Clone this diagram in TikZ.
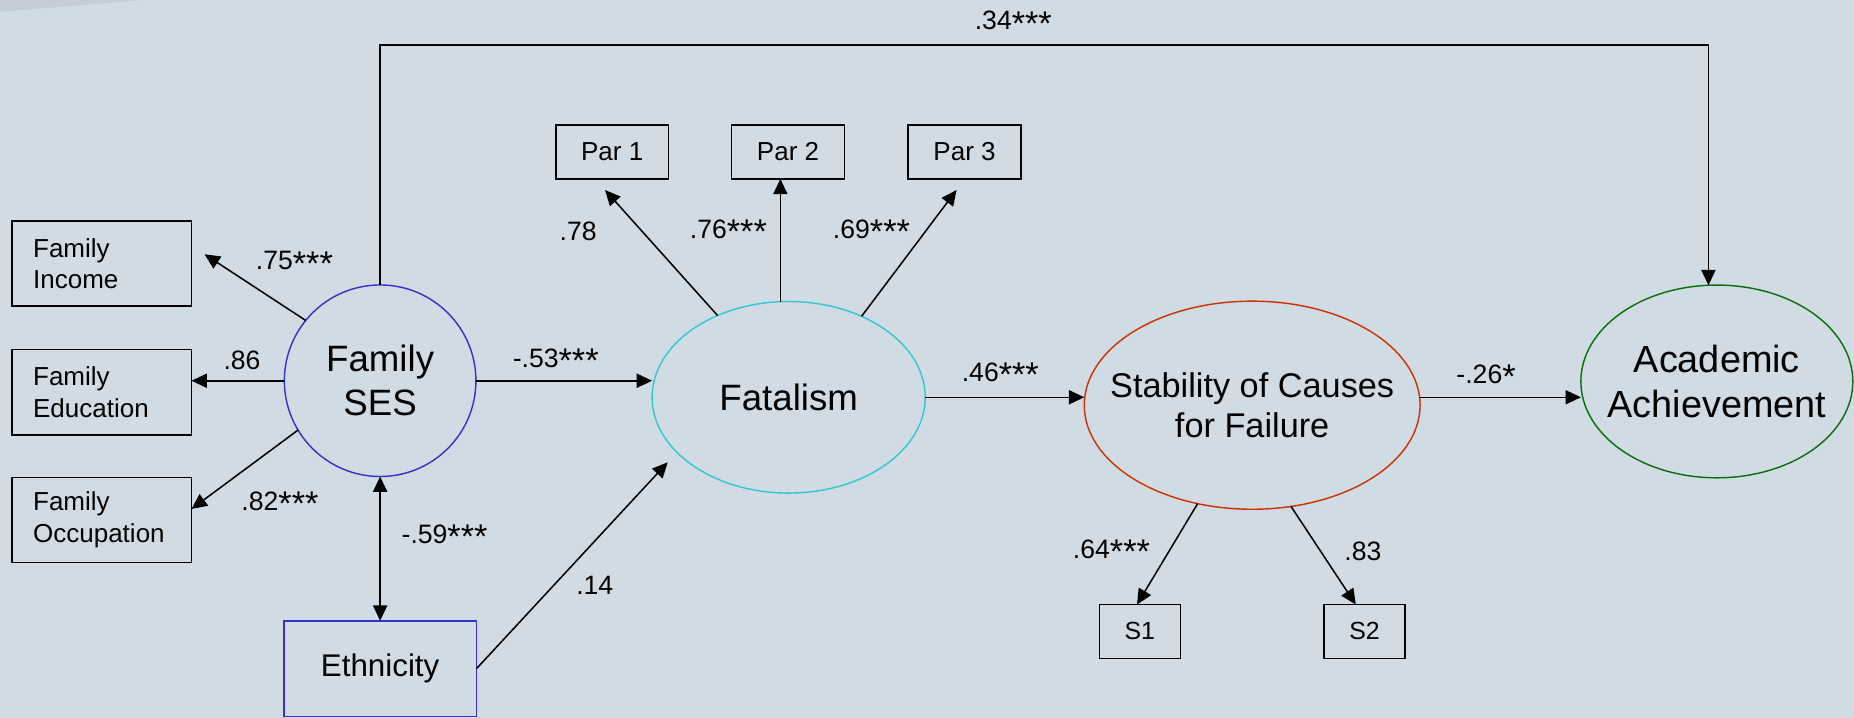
\documentclass[tikz,border=0pt]{standalone}
\usepackage{fontspec}
\usepackage{graphicx}
\setmainfont{Liberation Sans}
\usetikzlibrary{arrows.meta,shapes.geometric}
\definecolor{bg}{RGB}{208,219,227}
\definecolor{bgd}{RGB}{197,205,214}
\definecolor{sesblue}{RGB}{51,51,204}
\definecolor{fatcyan}{RGB}{51,200,204}
\definecolor{stabred}{RGB}{204,51,0}
\definecolor{acadgreen}{RGB}{10,110,10}
\newcommand\sigstars[1]{\raisebox{-4.5pt}{\fontsize{29}{27}\selectfont #1}}
\begin{document}
\begin{tikzpicture}[x=1pt,y=-1pt,
  every node/.style={inner sep=0pt,outer sep=0pt},
  arr/.style={line width=1.3pt,-{Triangle[length=13pt,width=12pt]}},
  darr/.style={line width=1.3pt,{Triangle[length=13pt,width=12pt]}-{Triangle[length=13pt,width=12pt]}},
  obsbox/.style={draw,line width=1.3pt,rectangle,font=\fontsize{22}{27}\selectfont},
  indbox/.style={obsbox,minimum width=152pt,minimum height=72pt,text width=116pt,inner xsep=18pt,align=left},
  smallbox/.style={obsbox,minimum height=45.5pt},
  latent/.style={draw,line width=1.2pt,ellipse},
  coef/.style={font=\fontsize{22.5}{27}\selectfont}
]
\useasboundingbox (0,0) rectangle (1568,607);
\fill[bg] (0,0) rectangle (1568,607);
\fill[bgd] (0,0) -- (121,0) -- (0,10) -- cycle;

% indicators of Family SES
\node[indbox] (finc) at (86,223) {Family\\Income};
\node[indbox,minimum height=72.5pt] (fedu) at (86,331.7) {Family\\Education};
\node[indbox] (focc) at (86,439.8) {Family\\Occupation};

% latent variables
\node[latent,circle,draw=sesblue,minimum size=162pt,
  label={[align=center,font=\fontsize{31}{37}\selectfont]center:Family\\SES}] (fses) at (321.5,322) {};
\node[latent,draw=fatcyan,minimum width=231pt,minimum height=162pt,
  label={[font=\fontsize{31}{37}\selectfont]center:Fatalism}] (fat) at (667,336) {};
\node[latent,draw=stabred,minimum width=284pt,minimum height=176pt,
  label={[align=center,font=\fontsize{29}{34}\selectfont]center:Stability of Causes\\for Failure}] (stab) at (1059,342.7) {};
\node[latent,draw=acadgreen,minimum width=230pt,minimum height=163pt,
  label={[align=center,font=\fontsize{32}{38}\selectfont]center:Academic\\Achievement}] (acad) at (1452,322.6) {};

% Ethnicity
\node[obsbox,draw=sesblue,minimum width=163pt,minimum height=81pt,font=\fontsize{26.5}{30}\selectfont] (eth) at (321.5,565.5) {Ethnicity};

% Fatalism indicators
\node[smallbox,minimum width=95.5pt] (par1) at (517.75,128.5) {Par 1};
\node[smallbox,minimum width=95.5pt] (par2) at (666.5,128.5) {Par 2};
\node[smallbox,minimum width=95.5pt] (par3) at (815.75,128.5) {Par 3};

% Stability indicators
\node[smallbox,minimum width=68.5pt,font=\fontsize{21}{25}\selectfont] (s1) at (964,534) {S1};
\node[smallbox,minimum width=68.5pt,font=\fontsize{21}{25}\selectfont] (s2) at (1154,534) {S2};

% free ends of arrows that stop short of their boxes
\coordinate (tinc) at (173,215);
\coordinate (tpar1) at (511.7,160.7);
\coordinate (tpar3) at (809,160.7);
\coordinate (tfat) at (564.7,391);
\coordinate (p2x) at (660,0);
\coordinate (topy) at (860,38);

% connectors
\draw[arr] (fses.141.5) -- (tinc);
\draw[arr] (fses.west) -- (fses.west -| fedu.east);
\draw[arr] (fses.211.3) -- (focc.7.3);
\draw[darr] (fses.south) -- (eth.north);
\draw[arr] (eth.east) -- (tfat);
\draw[arr] (fses.east) -- (fses.east -| fat.west);
\draw[arr] (fat.131.9) -- (tpar1);
\draw[arr] (fat.north -| p2x) -- (par2.south -| p2x);
\draw[arr] (fat.48.6) -- (tpar3);
\draw[arr] (fat.east) -- (fat.east -| stab.west);
\draw[arr] (stab.east |- fat.east) -- (acad.west |- fat.east);
\draw[arr] (stab.241.6) -- (s1.96);
\draw[arr] (stab.291) -- (s2.108.6);
\draw[arr] (fses.north) |- (topy) -| (acad.95.3);

% coefficients
\node[coef] (c34) at (857,19.7) {.34\sigstars{***}};
\node[coef] (c75) at (249,222.7) {.75\sigstars{***}};
\node[coef] (c86) at (204.7,305) {.86};
\node[coef] (c82) at (236.8,426) {.82\sigstars{***}};
\node[coef] (c59) at (376,454) {-.59\sigstars{***}};
\node[coef] (c14) at (503,494.8) {.14};
\node[coef] (c53) at (470,305) {-.53\sigstars{***}};
\node[coef] (c78) at (489,196) {.78};
\node[coef] (c76) at (616,196) {.76\sigstars{***}};
\node[coef] (c69) at (737,196) {.69\sigstars{***}};
\node[coef] (c46) at (846,317) {.46\sigstars{***}};
\node[coef] (c26) at (1256.8,318.6) {-.26\sigstars{*}};
\node[coef] (c64) at (940,466.6) {.64\sigstars{***}};
\node[coef] (c83) at (1152.6,466.6) {.83};
\end{tikzpicture}
\end{document}
